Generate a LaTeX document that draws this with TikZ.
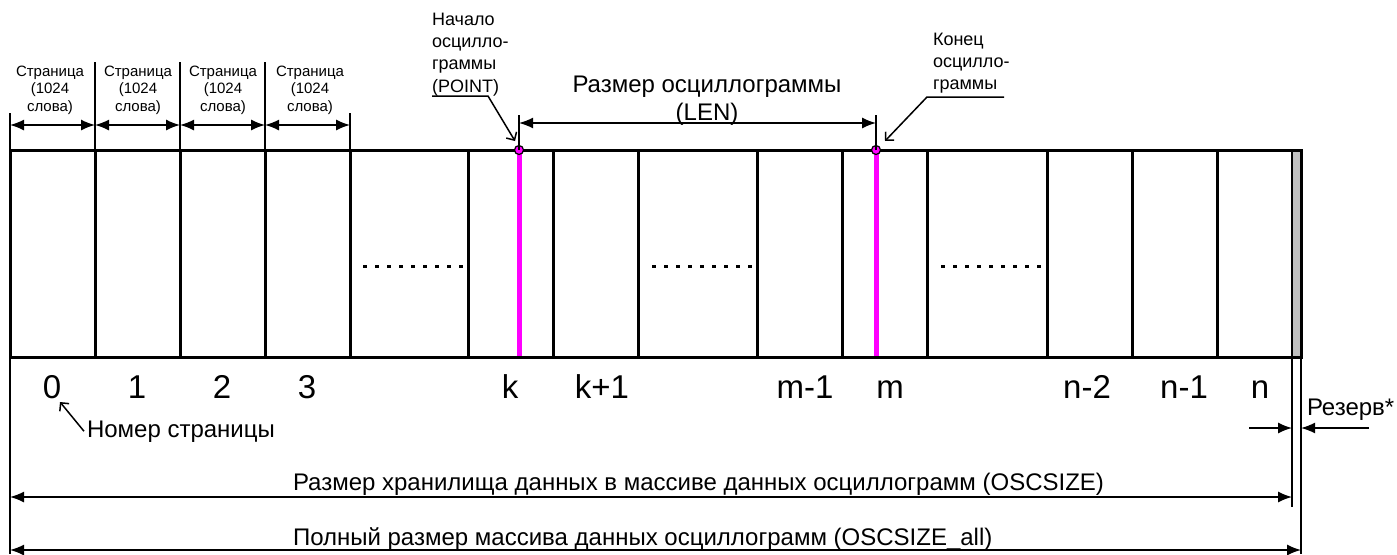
\documentclass[tikz,border=0pt]{standalone}
\usepackage{fontspec}
\setmainfont{Liberation Sans}
\usetikzlibrary{arrows.meta,positioning}
\definecolor{rezgrey}{RGB}{192,192,192}
\definecolor{oscmag}{RGB}{255,0,255}

\begin{document}
\begin{tikzpicture}[x=1pt,y=-1pt,
	every node/.style={inner sep=0pt,outer sep=0pt},
	frame/.style={line width=3pt},
	thinline/.style={line width=1.5pt},
	dimline/.style={line width=1.5pt,{Latex[length=14pt,width=11pt]}-{Latex[length=14pt,width=11pt]}},
	dimto/.style={line width=1.5pt,-{Latex[length=14pt,width=11pt]}},
	leader/.style={line width=1.5pt,-{Straight Barb[length=6pt,width=12pt]}},
	pagetxt/.style={align=center,anchor=north,font=\fontsize{15}{17.5}\selectfont},
	numtxt/.style={anchor=base,font=\fontsize{33}{36}\selectfont},
	midtxt/.style={font=\fontsize{24}{26}\selectfont},
	notetxt/.style={align=left,anchor=north west,font=\fontsize{18}{22.3}\selectfont},
	marker/.style={oscmag,line width=5pt}]
	\useasboundingbox (0,0) rectangle (1397,554);
	\foreach \x [count=\i] in {10,95,180,265,350,468,553,638,757,842,927,1047,1132,1217,1292,1301}{
		\coordinate (c\i) at (\x,150);
		\coordinate (d\i) at (\x,357);
	}
	\coordinate (pk) at (519,150); \coordinate (pkb) at (519,357);
	\coordinate (pm) at (876,150); \coordinate (pmb) at (876,357);
	\fill[rezgrey] (c15) rectangle (d16);
	\draw[marker] (pk) -- (pkb);
	\draw[marker] (pm) -- (pmb);
	\foreach \i in {2,...,14} \draw[frame] (c\i) -- (d\i);
	\draw[thinline] (c15) -- (d15);
	\draw[frame] (c1) rectangle (d16);
	\filldraw[fill=oscmag,draw=black,line width=1.2pt] (pk) circle (4.5);
	\filldraw[fill=oscmag,draw=black,line width=1.2pt] (pm) circle (4.5);
	\foreach \x in {363,652,941} \foreach \j in {0,...,8} \fill (\x+12*\j,264.5) rectangle ++(3.5,3.5);
	\foreach \x/\t [count=\i] in {52/0,137/1,222/2,307/3,510/k,602/k+1,805/m-1,890/m,1087/n-2,1184/n-1,1260/n}
		\node[numtxt] (lab\i) at (\x,398) {\t};
	\foreach \x [count=\i] in {10,95,180,265,350} \coordinate (p\i) at (\x,125);
	\foreach \i in {2,3,4} \draw[thinline] (c\i) -- ++(0,-88);
	\draw[thinline] (c5) -- ++(0,-37);
	\draw[thinline] (10,113) -- (10,554);
	\foreach \i/\j in {1/2,2/3,3/4,4/5} \draw[dimline] (p\i) -- (p\j);
	\foreach \x [count=\i] in {50,138,223,310}
		\node[pagetxt] (pg\i) at (\x,66) {Страница\\(1024\\слова)};
	\coordinate (lk) at (519,115); \coordinate (lm) at (876,115);
	\coordinate (la) at (519,123); \coordinate (lb) at (876,123);
	\draw[thinline] (pk) -- (lk);
	\draw[thinline] (pm) -- (lm);
	\draw[dimline] (la) -- (lb);
	\node[midtxt,anchor=base] (lentxt) at (707,92) {Размер осциллограммы};
	\node[midtxt,anchor=base] (lenname) at (707,120) {(LEN)};
	\coordinate (ptip) at (515,141);
	\coordinate (etip) at (885,141);
	\node[notetxt] (starttxt) at (432,13) {Начало\\осцилло-\\граммы\\(POINT)};
	\draw[leader] (starttxt.south west) -- ++(56,0) -- (ptip);
	\node[notetxt] (endtxt) at (933,33) {Конец\\осцилло-\\граммы};
	\draw[leader] (1004,97) -- (927,97) -- (etip);
	\coordinate (zerotip) at (60,402);
	\node[midtxt,anchor=base west] (pagenum) at (87,437) {Номер страницы};
	\draw[leader] ([xshift=-3pt]pagenum.west) -- (zerotip);
	\node[midtxt,anchor=base west] (rez) at (1307,415) {Резерв*};
	\coordinate (ra) at (1249,428); \coordinate (rb) at (1292,428);
	\coordinate (rc) at (1369,428); \coordinate (rd) at (1301,428);
	\draw[dimto] (ra) -- (rb);
	\draw[dimto] (rc) -- (rd);
	\coordinate (sa) at (10,497); \coordinate (sb) at (1292,497);
	\coordinate (fa) at (10,550); \coordinate (fb) at (1301,550);
	\draw[thinline] (d15) -- (1292,507);
	\draw[thinline] (d16) -- (1301,554);
	\draw[dimline] (sa) -- (sb);
	\draw[dimline] (fa) -- (fb);
	\node[midtxt,anchor=base west] (stortxt) at (293,490) {Размер хранилища данных в массиве данных осциллограмм (OSCSIZE)};
	\node[midtxt,anchor=base west] (fulltxt) at (293,545) {Полный размер массива данных осциллограмм (OSCSIZE\_all)};
\end{tikzpicture}
\end{document}
